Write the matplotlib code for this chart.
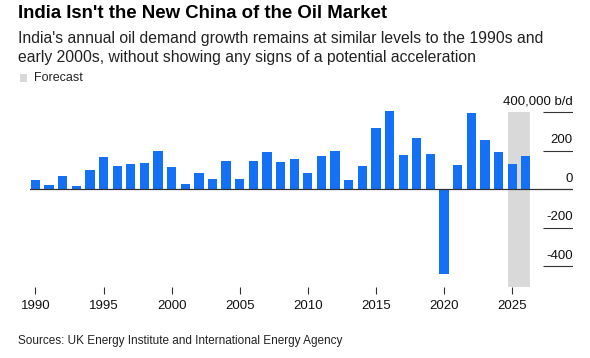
import matplotlib
matplotlib.use("Agg")
import matplotlib.pyplot as plt
from matplotlib.patches import Rectangle

plt.rcParams['font.family'] = ['Liberation Sans', 'DejaVu Sans']

# annual change in India's oil demand, thousand b/d (2025-26 forecast)
years = list(range(1990, 2027))
growth = [49, 23, 66, 17, 101, 169, 120, 132, 137, 197,
          117, 24, 82, 54, 144, 52, 148, 193, 141, 155,
          82, 172, 200, 45, 122, 320, 407, 176, 266, 184,
          -442, 127, 395, 257, 193, 132, 172]
forecast_years = [2025, 2026]
ytick_vals = [400, 200, 0, -200, -400]
ytick_text = ['400,000 b/d', '200', '0', '-200', '-400']
xtick_vals = list(range(1990, 2026, 5))

blue = '#1470F5'
shade = '#D9D9D9'
dark = '#333333'

fig = plt.figure(figsize=(5.9, 3.58), dpi=100)
ax = fig.add_axes([0.0508, 0.198, 0.920, 0.537])

x0, x1 = 1989.6, 2029.45
ax.set_xlim(x0, x1)
ax.set_ylim(-510, 490)

# forecast band
ax.add_patch(Rectangle((forecast_years[0] - 0.34, ax.get_ylim()[0]),
                       forecast_years[-1] - forecast_years[0] + 0.68,
                       400 - ax.get_ylim()[0], color=shade, lw=0, zorder=0))

ax.bar(years, growth, width=0.68, color=blue, zorder=2)
ax.axhline(0, color=dark, lw=0.9, zorder=3)

# short gridlines + labels on the right
for v, t in zip(ytick_vals, ytick_text):
    if v != 0:
        ax.hlines(v, 2027.25, x1, color=dark, lw=0.8, zorder=3)
    ax.text(x1, v + 22, t, ha='right', va='bottom', fontsize=9.5, color='#111111')

ax.set_xticks(xtick_vals)
ax.set_xticklabels([str(y) for y in xtick_vals], fontsize=9.5, color='#111111')
ax.tick_params(axis='x', length=5, width=0.8, color=dark, pad=4)
ax.set_yticks([])
for s in ax.spines.values():
    s.set_visible(False)

fig.text(0.031, 0.962, "India Isn't the New China of the Oil Market",
         fontsize=13.4, fontweight='bold', va='center', color='#000000')
fig.text(0.031, 0.893, "India's annual oil demand growth remains at similar levels to the 1990s and",
         fontsize=11.3, va='center', color='#222222')
fig.text(0.031, 0.838, "early 2000s, without showing any signs of a potential acceleration",
         fontsize=11.3, va='center', color='#222222')
fig.patches.append(Rectangle((0.034, 0.772), 0.012, 0.02, transform=fig.transFigure,
                             color=shade, lw=0))
fig.text(0.058, 0.781, "Forecast", fontsize=9, va='center', color='#222222')
fig.text(0.031, 0.048, "Sources: UK Energy Institute and International Energy Agency",
         fontsize=8.5, va='center', color='#222222')

fig.savefig('out.png', dpi=100)
